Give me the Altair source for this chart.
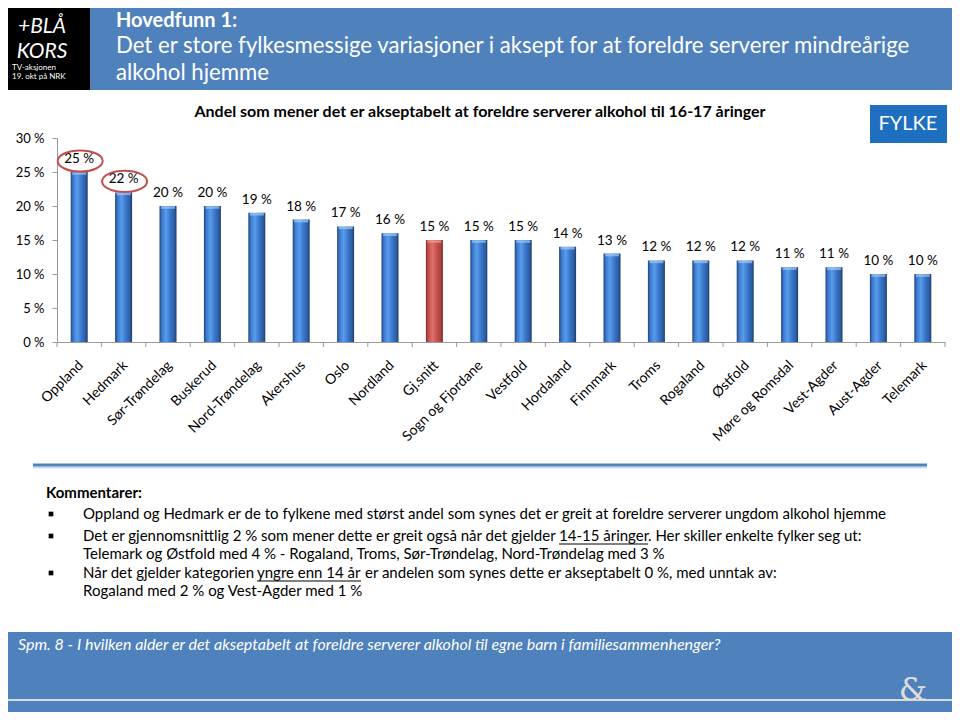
import altair as alt
import pandas as pd

# ---------------- data ----------------
fylker = ["Oppland", "Hedmark", "Sør-Trøndelag", "Buskerud", "Nord-Trøndelag",
          "Akershus", "Oslo", "Nordland", "Gj.snitt", "Sogn og Fjordane",
          "Vestfold", "Hordaland", "Finnmark", "Troms", "Rogaland", "Østfold",
          "Møre og Romsdal", "Vest-Agder", "Aust-Agder", "Telemark"]
andel = [25, 22, 20, 20, 19, 18, 17, 16, 15, 15, 15, 14, 13, 12, 12, 12, 11, 11, 10, 10]
circled = ["Oppland", "Hedmark"]
snitt = "Gj.snitt"
y_ticks = [0, 5, 10, 15, 20, 25, 30]

logo_big = ["+BLÅ", "KORS"]
logo_small = ["TV-aksjonen", "19. okt på NRK"]
header_lines = ["Hovedfunn 1:",
                "Det er store fylkesmessige variasjoner i aksept for at foreldre serverer mindreårige",
                "alkohol hjemme"]
chart_title = "Andel som mener det er akseptabelt at foreldre serverer alkohol til 16-17 åringer"
badge = "FYLKE"
comment_head = "Kommentarer:"
c1 = "Oppland og Hedmark er de to fylkene med størst andel som synes det er greit at foreldre serverer ungdom alkohol hjemme"
c2 = ["Det er gjennomsnittlig 2 % som mener dette er greit også når det gjelder",
      "14-15 åringer", ". Her skiller enkelte fylker seg ut:"]
c2b = "Telemark og Østfold med 4 % - Rogaland, Troms, Sør-Trøndelag, Nord-Trøndelag med 3 %"
c3 = ["Når det gjelder kategorien", "yngre enn 14 år",
      "er andelen som synes dette er akseptabelt 0 %, med unntak av:"]
c3b = "Rogaland med 2 % og Vest-Agder med 1 %"
footer_q = "Spm. 8 - I hvilken alder er det akseptabelt at foreldre serverer alkohol til egne barn i familiesammenhenger?"
amp = "&"

df = pd.DataFrame({"fylke": fylker, "andel": andel})
df["label"] = [f"{v} %" for v in andel]

# ---------------- layout ----------------
OX, OY = 57, 138          # slide position of plot origin
PW, PH = 888, 204         # plot area
FONT = "Lato"
BLUE = "#4F81BD"


def X(rx):
    return rx - OX


def Y(ry):
    return ry - OY


one = pd.DataFrame({"k": [0]})


def rect(x1, y1, x2, y2, color):
    return alt.Chart(one).mark_rect(color=color).encode(
        x=alt.value(X(x1)), x2=alt.value(X(x2)), y=alt.value(Y(y1)), y2=alt.value(Y(y2)))


def hline(x1, x2, y, color, w):
    return alt.Chart(one).mark_rule(color=color, strokeWidth=w).encode(
        x=alt.value(X(x1)), x2=alt.value(X(x2)), y=alt.value(Y(y)))


def text(s, rx, ry, size, weight="normal", style="normal", color="black",
         align="left", font=FONT):
    return alt.Chart(pd.DataFrame({"t": [s]})).mark_text(
        align=align, baseline="middle", fontSize=size, fontWeight=weight,
        fontStyle=style, color=color, font=font).encode(
        x=alt.value(X(rx)), y=alt.value(Y(ry)), text="t:N")


def bullet(rx, ry):
    return alt.Chart(one).mark_square(color="black", size=22, opacity=1).encode(
        x=alt.value(X(rx)), y=alt.value(Y(ry)))


x_axis = alt.Axis(title=None, labelAngle=-45, labelFont=FONT, labelFontSize=14,
                  labelColor="black", ticks=False, domainColor="#9a9a9a",
                  labelPadding=16, labelOffset=-3, labelOverlap=False)
y_axis = alt.Axis(title=None, values=y_ticks, labelExpr="datum.value + ' %'",
                  labelFont=FONT, labelFontSize=13, labelColor="black",
                  tickSize=5, tickColor="#9a9a9a", domainColor="#9a9a9a",
                  labelPadding=8, grid=False)
x_scale = alt.Scale(domain=fylker, paddingInner=0, paddingOuter=0)
y_scale = alt.Scale(domain=[0, 30], nice=False)

x_enc = alt.X("fylke:N", sort=fylker, scale=x_scale, axis=x_axis)
y_enc = alt.Y("andel:Q", scale=y_scale, axis=y_axis)

blue_grad = {"gradient": "linear", "x1": 0, "x2": 1, "y1": 0, "y2": 0,
             "stops": [{"offset": 0, "color": "#23467a"},
                       {"offset": 0.15, "color": "#3a7ad0"},
                       {"offset": 0.38, "color": "#5a9cec"},
                       {"offset": 0.62, "color": "#3b79cd"},
                       {"offset": 0.88, "color": "#2b5ca2"},
                       {"offset": 1, "color": "#1d3b68"}]}
red_grad = {"gradient": "linear", "x1": 0, "x2": 1, "y1": 0, "y2": 0,
            "stops": [{"offset": 0, "color": "#86302d"},
                      {"offset": 0.15, "color": "#c44f4b"},
                      {"offset": 0.38, "color": "#e0706b"},
                      {"offset": 0.62, "color": "#c95350"},
                      {"offset": 0.88, "color": "#a83f3c"},
                      {"offset": 1, "color": "#7e2c29"}]}

base = alt.Chart(df)

bars_blue = base.transform_filter(f"datum.fylke != '{snitt}'").mark_bar(
    width=17, color=blue_grad).encode(x=x_enc, y=y_enc)
bars_red = base.transform_filter(f"datum.fylke == '{snitt}'").mark_bar(
    width=17, color=red_grad).encode(x=x_enc, y=y_enc)
caps_blue = base.transform_filter(f"datum.fylke != '{snitt}'").mark_tick(
    color="#9fcaf6", thickness=2.5, size=14, yOffset=1.5).encode(x=x_enc, y=y_enc)
caps_red = base.transform_filter(f"datum.fylke == '{snitt}'").mark_tick(
    color="#f0a3a0", thickness=2.5, size=14, yOffset=1.5).encode(x=x_enc, y=y_enc)

values_txt = base.mark_text(dy=-13, baseline="middle", font=FONT, fontSize=13.5,
                            color="black").encode(x=x_enc, y=y_enc, text="label:N")

ellipse = "M-1,0A1,0.47,0,1,1,1,0A1,0.47,0,1,1,-1,0Z"
rings = base.transform_filter(
    alt.FieldOneOfPredicate(field="fylke", oneOf=circled)).mark_point(
    shape=ellipse, size=2025, filled=False, strokeWidth=2, color="#c0504d",
    opacity=1, yOffset=-11, xOffset=1).encode(x=x_enc, y=y_enc)

x_tick_l = alt.X("fylke:N", sort=fylker, scale=x_scale, axis=x_axis, bandPosition=0)
x_tick_r = alt.X("fylke:N", sort=fylker, scale=x_scale, axis=x_axis, bandPosition=1)
ticks_l = base.mark_rule(color="#9a9a9a").encode(
    x=x_tick_l, y=alt.value(PH), y2=alt.value(PH + 5))
ticks_r = base.transform_filter(f"datum.fylke == '{fylker[-1]}'").mark_rule(
    color="#9a9a9a").encode(x=x_tick_r, y=alt.value(PH), y2=alt.value(PH + 5))

layers = [
    # slide background blocks
    rect(0, 0, 92, 90, "black"),
    rect(90, 0, 960, 90, BLUE),
    rect(0, 632, 960, 720, BLUE),
    rect(870, 105, 947, 143, "#1F6FC0"),
    # logo
    text(logo_big[0], 42, 27, 21, color="white", align="center", style="italic"),
    text(logo_big[1], 42, 52, 21, color="white", align="center", style="italic"),
    text(logo_small[0], 12, 68, 8, color="white"),
    text(logo_small[1], 12, 77, 8, color="white"),
    # header
    text(header_lines[0], 116, 21, 20, weight="bold", color="white"),
    text(header_lines[1], 116, 46, 22.2, color="white"),
    text(header_lines[2], 116, 73, 22.2, color="white"),
    # chart title & badge
    text(chart_title, 480, 112, 16, weight="bold", align="center"),
    text(badge, 908, 124, 20, color="white", align="center"),
    # bars
    ticks_l, ticks_r, bars_blue, bars_red, caps_blue, caps_red, values_txt, rings,
    # separator
    hline(33, 927, 467.5, "#d3dae4", 2),
    hline(33, 927, 465, BLUE, 3),
    # comments
    text(comment_head, 46, 493, 15, weight="bold"),
    bullet(51, 514), bullet(51, 536), bullet(51, 573),
    text(c1, 83, 514, 15),
    text(c2[0], 83, 536, 15),
    text(c2[1], 559, 536, 15),
    text(c2[2], 648, 536, 15),
    hline(559, 648, 544, "black", 1),
    text(c2b, 83, 554, 15),
    text(c3[0], 83, 573, 15),
    text(c3[1], 257, 573, 15),
    text(c3[2], 365, 573, 15),
    hline(257, 361, 581, "black", 1),
    text(c3b, 83, 591, 15),
    # footer
    text(footer_q, 18, 645, 16, style="italic", color="white"),
    hline(0, 957, 700, "#d9d9d9", 2),
    text(amp, 913, 690, 32, color="#dcdcdc", align="center", font="DejaVu Serif"),
]

chart = alt.layer(*layers).properties(
    width=PW, height=PH,
    padding={"left": 49, "top": 130, "right": 7, "bottom": 370},
    autosize="none",
    background="white",
).configure_view(stroke=None)

chart.save("out.html", embed_options={"renderer": "svg", "actions": False})
